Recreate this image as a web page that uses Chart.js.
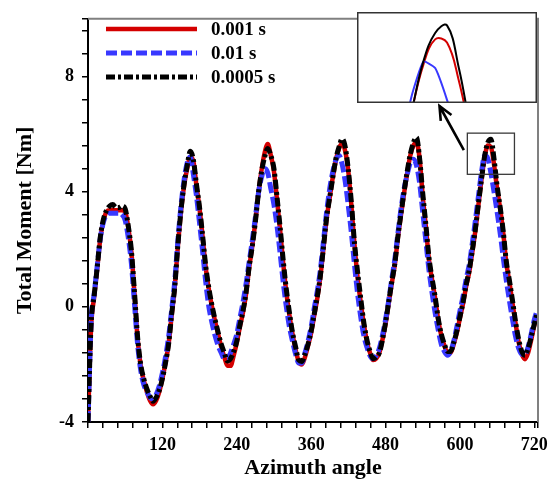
<!DOCTYPE html>
<html><head><meta charset="utf-8">
<script src="https://cdn.jsdelivr.net/npm/chart.js@4.4.0/dist/chart.umd.min.js"></script>
<style>
html,body{margin:0;padding:0;background:#fff;}
#wrap{position:relative;width:556px;height:482px;overflow:hidden;}
#main{position:absolute;left:0;top:0;}
#inset{position:absolute;left:357px;top:12px;}
</style></head><body>
<div id="wrap"><canvas id="main" width="556" height="482"></canvas><canvas id="inset" width="180" height="91"></canvas></div>
<script>
// Azimuth angle (deg)
const angles = [
  0,5,10,15,20,25,30,35,40,45,
  50,55,60,65,70,75,80,85,90,95,
  100,105,110,115,120,125,130,135,140,145,
  150,155,160,165,170,175,180,185,190,195,
  200,205,210,215,220,225,230,235,240,245,
  250,255,260,265,270,275,280,285,290,295,
  300,305,310,315,320,325,330,335,340,345,
  350,355,360,365,370,375,380,385,390,395,
  400,405,410,415,420,425,430,435,440,445,
  450,455,460,465,470,475,480,485,490,495,
  500,505,510,515,520,525,530,535,540,545,
  550,555,560,565,570,575,580,585,590,595,
  600,605,610,615,620,625,630,635,640,645,
  650,655,660,665,670,675,680,685,690,695,
  700,705,710,715,720,725
];
// Total moment [Nm], time step 0.001 s (red)
const moment001 = [
  -4.0,-0.7,0.35,1.35,2.4,3.0,3.3,3.35,3.35,3.35,
  3.35,3.35,3.3,2.75,1.9,0.45,-1.1,-2.05,-2.55,-2.95,
  -3.25,-3.38,-3.25,-2.95,-2.5,-1.95,-1.3,-0.3,0.7,2.1,
  3.3,4.2,4.8,5.2,5.05,4.2,3.4,2.4,1.35,0.6,
  0.0,-0.5,-0.95,-1.4,-1.75,-2.05,-2.05,-1.7,-1.25,-0.7,
  -0.2,0.45,1.35,2.1,2.95,3.95,4.75,5.35,5.65,5.25,
  4.7,3.7,2.65,1.5,0.5,-0.3,-0.95,-1.5,-1.9,-2.0,
  -1.75,-1.35,-0.9,-0.3,0.3,1.05,2.05,3.05,3.8,4.5,
  5.1,5.5,5.68,5.4,4.7,3.5,2.15,1.0,0.15,-0.6,
  -1.2,-1.6,-1.85,-1.8,-1.6,-1.15,-0.6,0.1,0.8,1.45,
  2.4,3.2,3.95,4.65,5.25,5.6,5.7,5.15,3.85,2.8,
  1.65,0.95,0.3,-0.45,-1.0,-1.35,-1.6,-1.6,-1.3,-0.9,
  -0.4,0.1,0.7,1.2,1.9,2.65,3.55,4.45,5.2,5.6,
  5.55,4.95,4.1,3.4,2.55,1.5,0.85,0.1,-0.6,-1.25,
  -1.65,-1.82,-1.6,-1.15,-0.65,-0.3
];
// time step 0.01 s (blue)
const moment01 = [
  -4.0,-0.5,0.45,1.45,2.4,2.95,3.2,3.25,3.25,3.25,
  3.25,3.2,3.0,2.4,1.5,0.1,-1.3,-2.2,-2.7,-2.95,
  -3.15,-3.2,-3.05,-2.75,-2.3,-1.75,-1.05,-0.1,0.9,2.3,
  3.5,4.4,5.0,5.2,4.6,3.85,2.9,1.9,0.85,0.0,
  -0.55,-1.0,-1.35,-1.6,-1.8,-1.8,-1.6,-1.3,-0.95,-0.4,
  0.15,0.8,1.55,2.3,3.1,3.95,4.5,4.8,4.65,4.1,
  3.55,2.8,1.85,0.85,0.0,-0.7,-1.2,-1.65,-1.95,-1.95,
  -1.6,-1.2,-0.7,-0.05,0.55,1.3,2.3,3.3,4.1,4.7,
  5.1,5.25,4.95,4.35,3.5,2.55,1.45,0.45,-0.35,-1.0,
  -1.4,-1.7,-1.8,-1.7,-1.45,-1.0,-0.45,0.2,0.95,1.65,
  2.55,3.4,4.1,4.6,5.0,5.12,4.9,4.3,3.3,2.3,
  1.3,0.5,-0.2,-0.8,-1.3,-1.55,-1.68,-1.55,-1.2,-0.7,
  -0.15,0.35,0.95,1.45,2.2,3.0,3.85,4.7,5.25,5.15,
  4.65,4.0,3.3,2.55,1.7,0.9,0.2,-0.45,-1.05,-1.45,
  -1.65,-1.65,-1.4,-0.95,-0.45,-0.1
];
// time step 0.0005 s (black)
const moment0005 = [
  -4.0,-0.6,0.4,1.4,2.45,3.05,3.35,3.5,3.55,3.45,
  3.45,3.5,3.4,2.8,1.95,0.5,-1.05,-2.0,-2.5,-2.85,
  -3.1,-3.28,-3.15,-2.9,-2.5,-1.95,-1.3,-0.25,0.7,2.15,
  3.35,4.25,4.9,5.4,5.1,4.25,3.45,2.45,1.4,0.65,
  0.05,-0.45,-0.9,-1.3,-1.6,-1.88,-1.8,-1.55,-1.2,-0.65,
  -0.15,0.5,1.39,2.1,2.95,3.95,4.7,5.2,5.5,5.25,
  4.8,3.8,2.75,1.6,0.6,-0.2,-0.9,-1.4,-1.85,-1.9,
  -1.65,-1.3,-0.85,-0.25,0.37,1.1,2.1,3.1,3.8,4.5,
  5.15,5.55,5.83,5.55,4.75,3.6,2.2,1.2,0.3,-0.55,
  -1.15,-1.55,-1.8,-1.75,-1.6,-1.15,-0.55,0.15,0.85,1.5,
  2.45,3.25,4.0,4.7,5.3,5.7,5.88,5.15,3.95,2.87,
  1.73,1.0,0.35,-0.4,-0.95,-1.3,-1.55,-1.55,-1.25,-0.85,
  -0.35,0.15,0.75,1.27,1.95,2.7,3.6,4.45,5.25,5.7,
  5.82,5.15,4.2,3.45,2.6,1.55,0.9,0.2,-0.55,-1.15,
  -1.55,-1.68,-1.45,-1.05,-0.6,-0.2
];
const seriesLabels = ['0.001 s', '0.01 s', '0.0005 s'];
const xTickLabels = ['120', '240', '360', '480', '600', '720'];
const yTickLabels = ['-4', '0', '4', '8'];
// zoomed window shown in the inset: [xMin, xMax, yMin, yMax]
const zoomWindow = [612, 688, 4.6, 6.03];

const toXY = arr => arr.map((v, i) => ({x: angles[i], y: v}));
const styles = [
  {color: '#d40000', width: 4.5, dash: [], order: 3},
  {color: '#3838ff', width: 5, dash: [11, 4], order: 2},
  {color: '#000000', width: 5, dash: [9, 3, 3, 3], order: 1}
];
const seriesData = [moment001, moment01, moment0005];

const serif = 'Liberation Serif, Times New Roman, serif';

const mainDatasets = seriesData.map((d, i) => ({
  label: seriesLabels[i],
  data: toXY(d),
  borderColor: styles[i].color,
  borderWidth: styles[i].width,
  borderDash: styles[i].dash,
  order: styles[i].order,
  pointRadius: 0,
  fill: false,
  cubicInterpolationMode: 'monotone'
}));

const framePlugin = {
  id: 'frame',
  afterDatasetsDraw(chart) {
    const {ctx, chartArea: a, scales: {x, y}} = chart;
    ctx.save();
    // top and right border
    ctx.strokeStyle = '#808080';
    ctx.lineWidth = 2;
    ctx.beginPath();
    ctx.moveTo(a.left, a.top);
    ctx.lineTo(a.right, a.top);
    ctx.lineTo(a.right, a.bottom);
    ctx.stroke();
    // zoom rectangle
    const x0 = x.getPixelForValue(zoomWindow[0]), x1 = x.getPixelForValue(zoomWindow[1]);
    const y0 = y.getPixelForValue(zoomWindow[3]), y1 = y.getPixelForValue(zoomWindow[2]);
    ctx.strokeStyle = '#3a3a3a';
    ctx.lineWidth = 1.3;
    ctx.strokeRect(x0, y0, x1 - x0, y1 - y0);
    // arrow from the zoom box to the inset
    const tx = x0 - 3.5, ty = y0 + 17;
    const hx = 439.5, hy = 106;
    ctx.strokeStyle = '#000';
    ctx.lineWidth = 2.6;
    ctx.beginPath();
    ctx.moveTo(tx, ty);
    ctx.lineTo(hx, hy);
    const ang = Math.atan2(hy - ty, hx - tx);
    const L = 15, spread = 0.42;
    ctx.moveTo(hx - L * Math.cos(ang - spread), hy - L * Math.sin(ang - spread));
    ctx.lineTo(hx, hy);
    ctx.lineTo(hx - L * Math.cos(ang + spread), hy - L * Math.sin(ang + spread));
    ctx.stroke();
    // legend
    const rowY = [29, 53, 77];
    ctx.font = 'bold 19px ' + serif;
    ctx.textBaseline = 'middle';
    ctx.textAlign = 'left';
    seriesLabels.forEach((lab, i) => {
      const s = styles[i];
      ctx.strokeStyle = s.color;
      ctx.lineWidth = s.width;
      ctx.setLineDash(s.dash);
      ctx.beginPath();
      ctx.moveTo(106, rowY[i]);
      ctx.lineTo(197, rowY[i]);
      ctx.stroke();
      ctx.setLineDash([]);
      ctx.fillStyle = '#000';
      ctx.fillText(lab, 211, rowY[i] + 1);
    });
    ctx.restore();
  }
};

const tickFont = {family: serif, weight: 'bold', size: 18};
const titleFont = {family: serif, weight: 'bold', size: 22, lineHeight: 1.2};

new Chart(document.getElementById('main'), {
  type: 'line',
  data: {datasets: mainDatasets},
  options: {
    responsive: false,
    animation: false,
    devicePixelRatio: 1,
    layout: {padding: {top: 11, right: 18, left: 0, bottom: 0}},
    plugins: {legend: {display: false}, tooltip: {enabled: false}},
    scales: {
      x: {
        type: 'linear', min: 0, max: 726, bounds: 'data',
        border: {display: true, color: '#000', width: 2},
        grid: {drawOnChartArea: false, drawTicks: true, tickLength: 6, color: '#000', lineWidth: 1.5},
        ticks: {
          stepSize: 24, autoSkip: false, maxRotation: 0, includeBounds: false, padding: 7,
          color: '#000', font: tickFont,
          callback: v => { const s = String(Math.round(v)); return xTickLabels.includes(s) ? s : ''; }
        },
        title: {display: true, text: 'Azimuth angle', color: '#000', font: titleFont, padding: {top: 0, bottom: 0}},
        afterFit: s => { s.height = 60; }
      },
      y: {
        type: 'linear', min: -4, max: 10, bounds: 'data',
        border: {display: true, color: '#000', width: 2},
        grid: {drawOnChartArea: false, drawTicks: true, tickLength: 6, color: '#000', lineWidth: 1.5},
        ticks: {
          stepSize: 0.8, autoSkip: false, includeBounds: false, padding: 8,
          color: '#000', font: tickFont,
          callback: v => { const s = String(Math.round(v * 10) / 10); return yTickLabels.includes(s) ? s : ''; }
        },
        title: {display: true, text: 'Total Moment [Nm]', color: '#000', font: titleFont, padding: {top: 12, bottom: 0}},
        afterFit: s => { s.width = 88; }
      }
    }
  },
  plugins: [framePlugin]
});

// Inset: zoom of the last peak
const insetFrame = {
  id: 'insetFrame',
  beforeDraw(chart) {
    const {ctx, width, height} = chart;
    ctx.save(); ctx.fillStyle = '#fff'; ctx.fillRect(0, 0, width, height); ctx.restore();
  },
  afterDraw(chart) {
    const {ctx, width, height} = chart;
    ctx.save(); ctx.strokeStyle = '#333'; ctx.lineWidth = 1.5;
    ctx.strokeRect(0.75, 0.75, width - 1.5, height - 1.5); ctx.restore();
  }
};
new Chart(document.getElementById('inset'), {
  type: 'line',
  data: {datasets: seriesData.map((d, i) => ({
    data: toXY(d), borderColor: styles[i].color, borderWidth: 2, order: styles[i].order,
    pointRadius: 0, fill: false, clip: 0,
    tension: i === 1 ? 0.15 : 0.4
  }))},
  options: {
    responsive: false, animation: false, devicePixelRatio: 1,
    layout: {padding: 0},
    plugins: {legend: {display: false}, tooltip: {enabled: false}},
    scales: {
      x: {type: 'linear', display: false, min: zoomWindow[0], max: zoomWindow[1], bounds: 'data'},
      y: {type: 'linear', display: false, min: zoomWindow[2], max: zoomWindow[3], bounds: 'data'}
    }
  },
  plugins: [insetFrame]
});
</script>
</body></html>
